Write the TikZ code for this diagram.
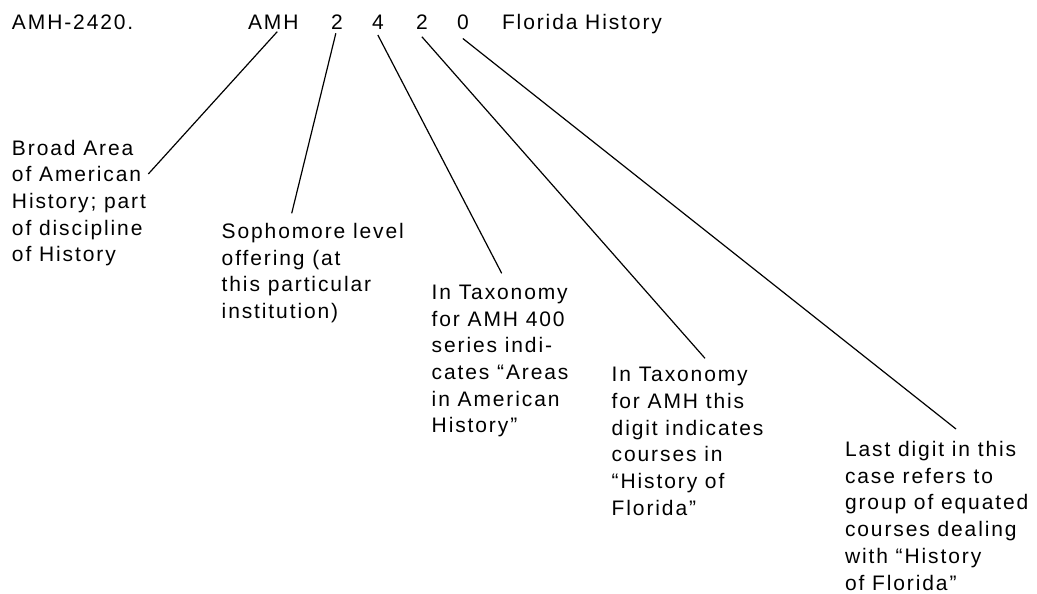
\documentclass[tikz,border=0pt]{standalone}
\usepackage{fontspec}
\newfontfamily\lab[LetterSpace=9]{Liberation Sans}
\usetikzlibrary{calc}
\begin{document}
\begin{tikzpicture}[x=1pt,y=-1pt,
  txt/.style={anchor=base west,inner sep=0pt,outer sep=0pt,font=\lab\fontsize{21}{26.7}\selectfont},
  conn/.style={draw=black,line width=1.2pt}]
\useasboundingbox (0,0) rectangle (1037,594);
% header
\node[txt] (code) at (12,30) {AMH-2420.};
\node[txt] (amh) at (248,30) {AMH};
\node[txt] (d1) at (331,30) {2};
\node[txt] (d2) at (372,30) {4};
\node[txt] (d3) at (416,30) {2};
\node[txt] (d4) at (457,30) {0};
\node[txt] (title) at (502,30) {Florida History};
% blocks
\node[txt] (b1) at (12,155) {\begin{tabular}[t]{@{}l@{}}Broad Area\\of American\\History; part\\of discipline\\of History\end{tabular}};
\node[txt] (b2) at (221.7,238.3) {\begin{tabular}[t]{@{}l@{}}Sophomore level\\offering (at\\this particular\\institution)\end{tabular}};
\node[txt] (b3) at (431.7,299.3) {\begin{tabular}[t]{@{}l@{}}In Taxonomy\\for AMH 400\\series indi-\\cates “Areas\\in American\\History”\end{tabular}};
\node[txt] (b4) at (611.7,381.7) {\begin{tabular}[t]{@{}l@{}}In Taxonomy\\for AMH this\\digit indicates\\courses in\\“History of\\Florida”\end{tabular}};
\node[txt] (b5) at (845,456.5) {\begin{tabular}[t]{@{}l@{}}Last digit in this\\case refers to\\group of equated\\courses dealing\\with “History\\of Florida”\end{tabular}};
% connector ends
\coordinate (e1) at (148.3,174);
\coordinate (e2) at (291.7,213.3);
\coordinate (e3) at (501.7,273.3);
\coordinate (e4) at (705,358.3);
\coordinate (e5) at (956,429);
% connectors
\draw[conn] ($(amh.south)+(4,1.7)$) -- (e1);
\draw[conn] ($(d1.south)+(-1,3.3)$) -- (e2);
\draw[conn] ($(d2.south)+(0,5)$) -- (e3);
\draw[conn] ($(d3.south)+(0,6.7)$) -- (e4);
\draw[conn] ($(d4.south)+(0,8.3)$) -- (e5);
\end{tikzpicture}
\end{document}
